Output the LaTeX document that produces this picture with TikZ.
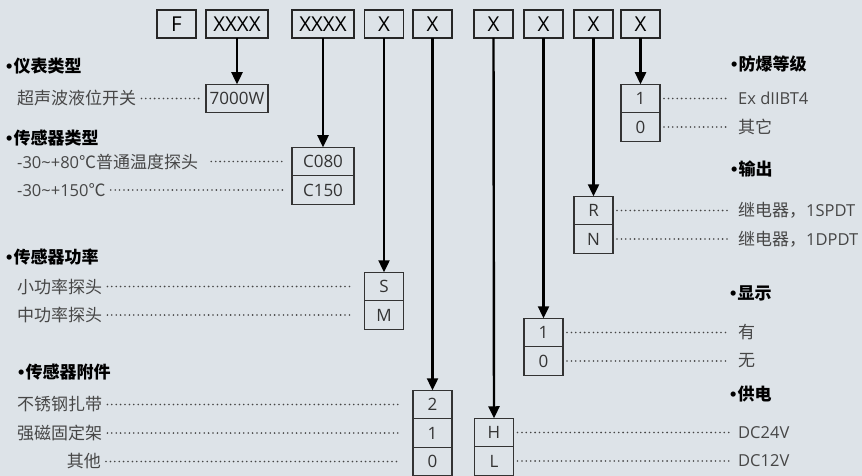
\documentclass[tikz,border=0pt]{standalone}
\usepackage{fontspec}
\setmainfont{Noto Sans CJK SC}
\newfontfamily\lat{Open Sans}
\newfontfamily\bul{Liberation Sans}
\usetikzlibrary{arrows.meta,positioning}
\definecolor{bgcol}{RGB}{221,227,232}
\definecolor{txtcol}{RGB}{70,70,70}
\newcommand\latsz{\lat\fontsize{16.5}{17}\selectfont}
\newcommand\dotmark{{\bul\bfseries\fontsize{18}{18}\selectfont\kern-1pt•\kern1pt}}

\begin{document}
\begin{tikzpicture}[x=1pt,y=-1pt,
	top/.style={draw=black!85,line width=1.3pt,minimum height=28pt,minimum width=39pt,inner sep=0pt,outer sep=0pt,font=\lat\fontsize{20.5}{20}\selectfont},
	opt/.style={draw=black!80,line width=1.2pt,minimum height=28.5pt,minimum width=39pt,inner sep=0pt,outer sep=0pt,text=black!80,font=\lat\fontsize{17}{17}\selectfont},
	lbl/.style={inner sep=0pt,text=txtcol,font=\fontsize{17}{17}\selectfont},
	hd/.style={inner sep=0pt,anchor=west,font=\bfseries\fontsize{17}{17}\selectfont},
	lead/.style={draw=txtcol,line width=1.8pt,dash pattern=on 0pt off 4.4pt,line cap=round,shorten <=5pt,shorten >=4pt},
	arr/.style={line width=2.4pt,-{Triangle[width=11pt,length=12pt]}}]
		\fill[bgcol] (0,0) rectangle (862,476);
		\useasboundingbox (0,0) rectangle (862,476);
		
		\node[top] (hF) at (176.5,24) {F};
		\node[top,minimum width=62pt] (hType) at (237,24) {XXXX};
		\node[top,minimum width=62pt] (hSensor) at (323,24) {XXXX};
		\node[top] (hPower) at (384,24) {X};
		\node[top] (hAcc) at (432.5,24) {X};
		\node[top] (hSupply) at (493.5,24) {X};
		\node[top] (hDisp) at (543.5,24) {X};
		\node[top] (hOut) at (593.5,24) {X};
		\node[top] (hEx) at (640.5,24) {X};
		
		\node[opt,minimum width=62pt] (o7000) at (237,98.5) {7000W};
		\node[opt,minimum width=62pt] (oC080) at (323,161.5) {C080};
		\node[opt,minimum width=62pt,below=0pt of oC080] (oC150) {C150};
		\node[opt] (oS) at (384,286.5) {S};
		\node[opt,below=0pt of oS] (oM) {M};
		\node[opt] (oA2) at (432.5,404.5) {2};
		\node[opt,below=0pt of oA2] (oA1) {1};
		\node[opt,below=0pt of oA1] (oA0) {0};
		\node[opt] (oH) at (494,432.5) {H};
		\node[opt,below=0pt of oH] (oL) {L};
		\node[opt] (oD1) at (543.5,332.5) {1};
		\node[opt,below=0pt of oD1] (oD0) {0};
		\node[opt] (oR) at (593.5,210.5) {R};
		\node[opt,below=0pt of oR] (oN) {N};
		\node[opt] (oE1) at (640.5,98.5) {1};
		\node[opt,below=0pt of oE1] (oE0) {0};
		
		\draw[arr] (hType.south) -- (o7000.north);
		\draw[arr] (hSensor.south) -- (oC080.north);
		\draw[arr] (hPower.south) -- (oS.north);
		\draw[arr] (hAcc.south) -- (oA2.north);
		\draw[arr] (hSupply.south) -- (oH.north);
		\draw[arr] (hDisp.south) -- (oD1.north);
		\draw[arr] (hOut.south) -- (oR.north);
		\draw[arr] (hEx.south) -- (oE1.north);
		
		\node[hd] (gType) at (7,66) {\dotmark 仪表类型};
		\node[hd] (gSensor) at (7,138) {\dotmark 传感器类型};
		\node[hd] (gPower) at (7,257) {\dotmark 传感器功率};
		\node[hd] (gAcc) at (19,372) {\dotmark 传感器附件};
		\node[hd] (gEx) at (732,64) {\dotmark 防爆等级};
		\node[hd] (gOut) at (732,169) {\dotmark 输出};
		\node[hd] (gDisp) at (731,293) {\dotmark 显示};
		\node[hd] (gSupply) at (731,394) {\dotmark 供电};
		
		\node[lbl,anchor=west] (lUltra) at (17,98.5) {超声波液位开关};
		\node[lbl,anchor=west] (lC080) at (17,161.5) {{\latsz-30\textasciitilde+80}℃普通温度探头};
		\node[lbl,anchor=west] (lC150) at (17,190) {{\latsz-30\textasciitilde+150}℃};
		\node[lbl,anchor=west] (lS) at (17,286.5) {小功率探头};
		\node[lbl,anchor=west] (lM) at (17,315) {中功率探头};
		\node[lbl,anchor=west] (lA2) at (17,404.5) {不锈钢扎带};
		\node[lbl,anchor=west] (lA1) at (17,433) {强磁固定架};
		\node[lbl,anchor=east] (lA0) at (101,461.5) {其他};
		
		\node[lbl,anchor=west,font=\latsz] (lE1) at (738,98.5) {Ex dIIBT4};
		\node[lbl,anchor=west] (lE0) at (738,127) {其它};
		\node[lbl,anchor=west] (lR) at (738,210.5) {继电器，{\latsz 1SPDT}};
		\node[lbl,anchor=west] (lN) at (738,239) {继电器，{\latsz 1DPDT}};
		\node[lbl,anchor=west] (lD1) at (738,332.5) {有};
		\node[lbl,anchor=west] (lD0) at (738,361) {无};
		\node[lbl,anchor=west,font=\latsz] (lH) at (738,432.5) {DC24V};
		\node[lbl,anchor=west,font=\latsz] (lL) at (738,461) {DC12V};
		
		\draw[lead] (lUltra.east) -- (o7000.west);
		\draw[lead,shorten <=13pt,shorten >=7pt] (lC080.east) -- (oC080.west);
		\draw[lead,shorten >=7pt] (lC150.east) -- (oC150.west);
		\draw[lead,shorten >=13pt] (lS.east) -- (oS.west);
		\draw[lead,shorten >=13pt] (lM.east) -- (oM.west);
		\draw[lead,shorten >=13pt] (lA2.east) -- (oA2.west);
		\draw[lead,shorten >=13pt] (lA1.east) -- (oA1.west);
		\draw[lead,shorten >=13pt] (lA0.east) -- (oA0.west);
		
		\draw[lead,shorten <=4pt,shorten >=9pt] (oE1.east) -- (lE1.west);
		\draw[lead,shorten <=4pt,shorten >=9pt] (oE0.east) -- (lE0.west);
		\draw[lead,shorten <=4pt,shorten >=9pt] (oR.east) -- (lR.west);
		\draw[lead,shorten <=4pt,shorten >=9pt] (oN.east) -- (lN.west);
		\draw[lead,shorten <=4pt,shorten >=9pt] (oD1.east) -- (lD1.west);
		\draw[lead,shorten <=4pt,shorten >=9pt] (oD0.east) -- (lD0.west);
		\draw[lead,shorten <=4pt,shorten >=9pt] (oH.east) -- (lH.west);
		\draw[lead,shorten <=4pt,shorten >=9pt] (oL.east) -- (lL.west);
\end{tikzpicture}
\end{document}
